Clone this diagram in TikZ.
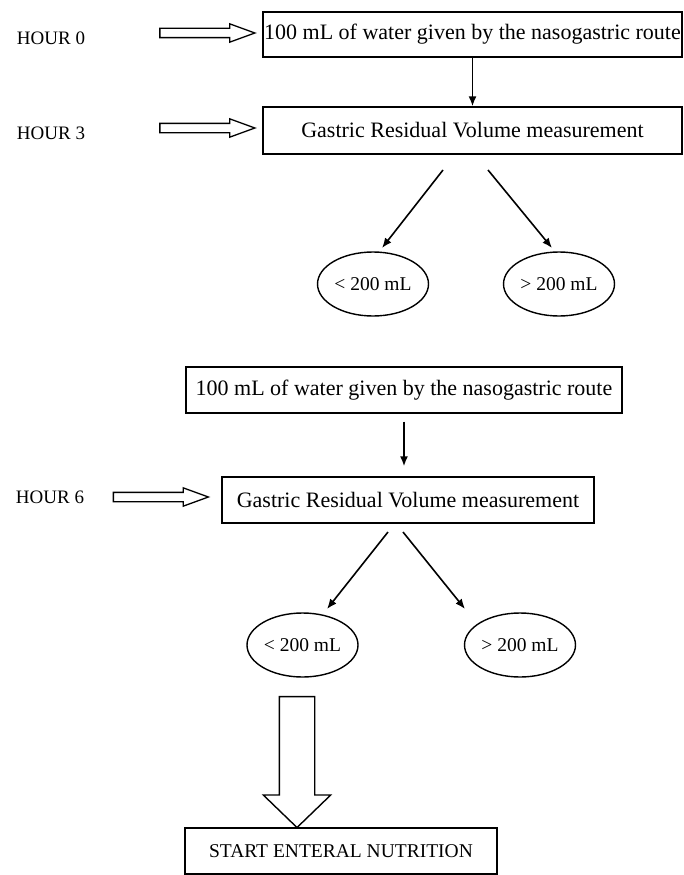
\documentclass[tikz,border=0pt]{standalone}
\usepackage{fontspec}
\setmainfont{Liberation Serif}
\usetikzlibrary{shapes.geometric,shapes.arrows,arrows.meta,positioning}

\tikzset{
  stepbox/.style = {draw, line width = 1.4pt, shape = rectangle, inner sep = 0pt, font = \fontsize{22}{25}\selectfont},
  result/.style = {draw, line width = 1.4pt, shape = ellipse, minimum width = 111pt, minimum height = 64pt, inner sep = 0pt, font = \fontsize{19.5}{22}\selectfont},
  hour/.style = {font = \fontsize{19}{22}\selectfont},
  hollow/.style = {draw, line width = 1.3pt, shape = single arrow, inner sep = 4pt, single arrow head extend = 4.5pt, single arrow tip angle = 40, minimum height = 95pt},
  bigarrow/.style = {draw, line width = 1.4pt, shape = single arrow, inner sep = 17pt, single arrow head extend = 16pt, single arrow tip angle = 92, minimum height = 131pt},
  arr/.style = {-{Latex[length=10pt,width=8pt]}, line width = 1.6pt}
}

\begin{document}
\begin{tikzpicture}[x = 1pt, y = -1pt]
\useasboundingbox (0,0) rectangle (683,875);

% hour labels
\node[hour] (h0) at (51,38) {HOUR 0};
\node[hour] (h3) at (51,133) {HOUR 3};
\node[hour] (h6) at (50,497) {HOUR 6};

% first round
\node[stepbox, minimum width = 419pt, minimum height = 45pt] (water1) at (472.5,34.5) {100 mL of water given by the nasogastric route};
\node[stepbox, minimum width = 419pt, minimum height = 47pt] (grv1) at (472.5,130.5) {Gastric Residual Volume measurement};
\node[result] (low1) at (373,284) {< 200 mL};
\node[result] (high1) at (559,284) {> 200 mL};

% second round
\node[stepbox, minimum width = 436pt, minimum height = 46pt] (water2) at (404,390) {100 mL of water given by the nasogastric route};
\node[stepbox, minimum width = 372pt, minimum height = 46pt] (grv2) at (408,500) {Gastric Residual Volume measurement};
\node[result] (low2) at (302.5,645) {< 200 mL};
\node[result] (high2) at (520,645) {> 200 mL};

\node[stepbox, minimum width = 312pt, minimum height = 46pt, font = \fontsize{19.5}{22}\selectfont] (start) at (341,851) {START ENTERAL NUTRITION};

% hollow arrows
\node[hollow] (a0) at (201,33) {};
\node[hollow] (a3) at (201,128) {};
\node[hollow] (a6) at (154.5,497) {};
\node[bigarrow, rotate = -90] (a9) at (297,753.5) {};

% connectors
\coordinate (s1) at (443,170);
\coordinate (s2) at (488,170);
\coordinate (e1) at (382,248);
\coordinate (e2) at (552,248);
\coordinate (s3) at (388,532);
\coordinate (s4) at (403,532);
\coordinate (e3) at (327,609);
\coordinate (e4) at (465,609);
\coordinate (m2) at (water2.south |- grv2.north);

\draw[arr] (water1.south) -- (grv1.north);
\draw[arr] (s1) -- (e1);
\draw[arr] (s2) -- (e2);
\draw[arr] ([yshift = -8pt]water2.south) -- ([yshift = 10pt]m2);
\draw[arr] (s3) -- (e3);
\draw[arr] (s4) -- (e4);
\end{tikzpicture}
\end{document}
